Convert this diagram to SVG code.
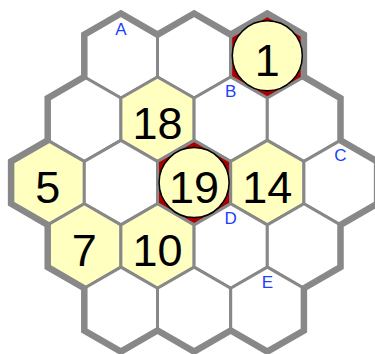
<svg xmlns="http://www.w3.org/2000/svg" xmlns:xlink="http://www.w3.org/1999/xlink" width="375" height="354" viewBox="0 0 375 354">
<style>
.h{fill:#ffffff;stroke:#888888;stroke-width:3}
.y{fill:#ffffc0}
.r{fill:#aa0000}
.c{fill:#ffffc0;stroke:#000000;stroke-width:1.5}
.n{font-family:"Liberation Sans",Arial,sans-serif;font-size:45px;fill:#000000;text-anchor:middle}
.l{font-family:"Liberation Sans",Arial,sans-serif;font-size:17px;fill:#2040ff;text-anchor:middle}
.edge{fill:none;stroke:#888888;stroke-width:6.5}
</style>
<defs>
<polygon id="hex" points="0,-42.26 36.6,-21.13 36.6,21.13 0,42.26 -36.6,21.13 -36.6,-21.13"/>
</defs>
<g id="r0c0"><use xlink:href="#hex" class="h" x="120.9" y="55.8"/></g>
<g id="r0c1"><use xlink:href="#hex" class="h" x="194.1" y="55.8"/></g>
<g id="r0c2"><use xlink:href="#hex" class="h r" x="267.3" y="55.8"/></g>
<g id="r1c0"><use xlink:href="#hex" class="h" x="84.3" y="119.2"/></g>
<g id="r1c1"><use xlink:href="#hex" class="h y" x="157.5" y="119.2"/></g>
<g id="r1c2"><use xlink:href="#hex" class="h" x="230.7" y="119.2"/></g>
<g id="r1c3"><use xlink:href="#hex" class="h" x="303.9" y="119.2"/></g>
<g id="r2c0"><use xlink:href="#hex" class="h y" x="47.7" y="182.6"/></g>
<g id="r2c1"><use xlink:href="#hex" class="h" x="120.9" y="182.6"/></g>
<g id="r2c2"><use xlink:href="#hex" class="h r" x="194.1" y="182.6"/></g>
<g id="r2c3"><use xlink:href="#hex" class="h y" x="267.3" y="182.6"/></g>
<g id="r2c4"><use xlink:href="#hex" class="h" x="340.5" y="182.6"/></g>
<g id="r3c0"><use xlink:href="#hex" class="h y" x="84.3" y="246.0"/></g>
<g id="r3c1"><use xlink:href="#hex" class="h y" x="157.5" y="246.0"/></g>
<g id="r3c2"><use xlink:href="#hex" class="h" x="230.7" y="246.0"/></g>
<g id="r3c3"><use xlink:href="#hex" class="h" x="303.9" y="246.0"/></g>
<g id="r4c0"><use xlink:href="#hex" class="h" x="120.9" y="309.4"/></g>
<g id="r4c1"><use xlink:href="#hex" class="h" x="194.1" y="309.4"/></g>
<g id="r4c2"><use xlink:href="#hex" class="h" x="267.3" y="309.4"/></g>
<g id="border">
<path class="edge" d="M84.3,34.67 L120.9,13.54 L157.5,34.67 L194.1,13.54 L230.7,34.67 L267.3,13.54 L303.9,34.67 L303.9,76.93 L340.5,98.07 L340.5,140.33 L377.1,161.47 L377.1,203.73 L340.5,224.87 L340.5,267.13 L303.9,288.27 L303.9,330.53 L267.3,351.66 L230.7,330.53 L194.1,351.66 L157.5,330.53 L120.9,351.66 L84.3,330.53 L84.3,288.27 L47.7,267.13 L47.7,224.87 L11.1,203.73 L11.1,161.47 L47.7,140.33 L47.7,98.07 L84.3,76.93 Z"/>
</g>
<g id="values">
<circle class="c" cx="267.3" cy="55.8" r="35"/>
<circle class="c" cx="194.1" cy="182.6" r="35"/>
<text class="n" x="267.3" y="75.8">1</text>
<text class="n" x="157.5" y="139.2">18</text>
<text class="n" x="47.7" y="202.6">5</text>
<text class="n" x="194.1" y="202.6">19</text>
<text class="n" x="267.3" y="202.6">14</text>
<text class="n" x="84.3" y="266.0">7</text>
<text class="n" x="157.5" y="266.0">10</text>
</g>
<g id="labels">
<text class="l" x="120.9" y="35">A</text>
<text class="l" x="230.7" y="97">B</text>
<text class="l" x="340.5" y="161">C</text>
<text class="l" x="230.7" y="224">D</text>
<text class="l" x="267.3" y="288">E</text>
</g>
</svg>
